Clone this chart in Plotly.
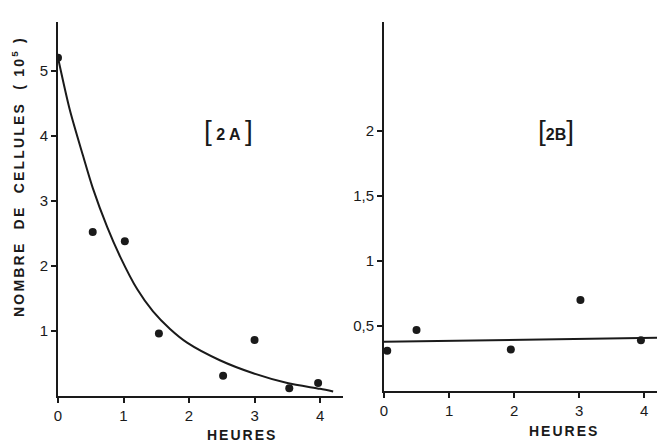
import plotly.graph_objects as go

# Panel 2A : cell count (10^5) versus hours
a_hours = [0, 0.53, 1.02, 1.54, 2.52, 3.0, 3.53, 3.97]
a_cells = [5.2, 2.52, 2.38, 0.96, 0.31, 0.86, 0.12, 0.2]

# fitted decay curve
a_fit_hours = [0, 0.18, 0.38, 0.53, 0.75, 0.95, 1.21, 1.45, 1.71, 1.97,
               2.47, 2.98, 3.5, 4.0, 4.2]
a_fit_cells = [5.2, 4.4, 3.7, 3.2, 2.6, 2.14, 1.64, 1.3, 1.03, 0.82,
               0.55, 0.35, 0.2, 0.11, 0.07]

# Panel 2B
b_hours = [0.05, 0.5, 1.95, 3.02, 3.95]
b_cells = [0.31, 0.47, 0.32, 0.7, 0.39]
b_fit_hours = [0, 4.35]
b_fit_cells = [0.38, 0.41]

x_ticks = [0, 1, 2, 3, 4]
a_y_ticks = [1, 2, 3, 4, 5]
b_y_ticks = [0.5, 1, 1.5, 2]
b_y_labels = ["0,5", "1", "1,5", "2"]

_INK = "#1a1a1a"
_FONT = "Liberation Sans, Arial, sans-serif"

# the page body has an 8px margin, so the figure is drawn a bit smaller
# and all pixel positions below are page pixels, shifted by that margin
OFF = 8
W, H = 665 - OFF, 444 - OFF


def px_x(p):
    return (p - OFF) / W


def px_y(p):
    return 1 - (p - OFF) / H


fig = go.Figure()

fig.add_trace(go.Scatter(x=a_fit_hours, y=a_fit_cells, mode="lines",
                         line=dict(color=_INK, width=2, shape="spline", smoothing=0.8),
                         xaxis="x", yaxis="y", hoverinfo="skip"))
fig.add_trace(go.Scatter(x=a_hours, y=a_cells, mode="markers",
                         marker=dict(color=_INK, size=8),
                         xaxis="x", yaxis="y"))
fig.add_trace(go.Scatter(x=b_fit_hours, y=b_fit_cells, mode="lines",
                         line=dict(color=_INK, width=2),
                         xaxis="x2", yaxis="y2", hoverinfo="skip"))
fig.add_trace(go.Scatter(x=b_hours, y=b_cells, mode="markers",
                         marker=dict(color=_INK, size=8),
                         xaxis="x2", yaxis="y2"))

axis_common = dict(
    showline=True, linecolor=_INK, linewidth=2,
    ticks="outside", ticklen=5, tickwidth=1.5, tickcolor=_INK,
    showgrid=False, zeroline=False, automargin=False,
    tickfont=dict(family=_FONT, size=15, color=_INK),
)

fig.update_layout(
    template="none",
    xaxis=dict(domain=[px_x(58), px_x(343)], range=[0, 4.35], anchor="y",
               tickvals=x_ticks, **axis_common),
    yaxis=dict(domain=[px_y(396), px_y(22)], range=[0, 5.75], anchor="x",
               tickvals=a_y_ticks, **axis_common),
    xaxis2=dict(domain=[px_x(384), 1.0], range=[0, 4.32], anchor="y2",
                tickvals=x_ticks, **axis_common),
    yaxis2=dict(domain=[px_y(391), px_y(22)], range=[0, 2.84], anchor="x2",
                tickvals=b_y_ticks, ticktext=b_y_labels, **axis_common),
    plot_bgcolor="white",
    paper_bgcolor="white",
    showlegend=False,
    width=W,
    height=H,
    margin=dict(l=0, r=0, t=0, b=0),
)


def label(text, x, y, font, angle=0):
    fig.add_annotation(text=text, x=px_x(x), y=px_y(y), xref="paper", yref="paper",
                       xanchor="center", yanchor="middle", textangle=angle,
                       showarrow=False, font=font)


title_font = dict(family=_FONT, size=14, color=_INK)
spaced = "<span style='letter-spacing:2px'><b>%s</b></span>"
label(spaced % "HEURES", 242, 435, title_font)
label(spaced % "HEURES", 564, 431, title_font)
label("<span style='letter-spacing:2.2px'><b>NOMBRE  DE  CELLULES  ( 10<sup>5</sup> )</b></span>",
      18, 177, title_font, angle=-90)

panel_font = dict(family=_FONT, size=16, color=_INK)
label("<span style='font-size:28px'>[</span> <b>2 A</b> <span style='font-size:28px'>]</span>",
      228, 130, panel_font)
label("<span style='font-size:28px'>[</span><b>2B</b><span style='font-size:28px'>]</span>",
      556, 130, panel_font)

fig.write_html("out.html")
